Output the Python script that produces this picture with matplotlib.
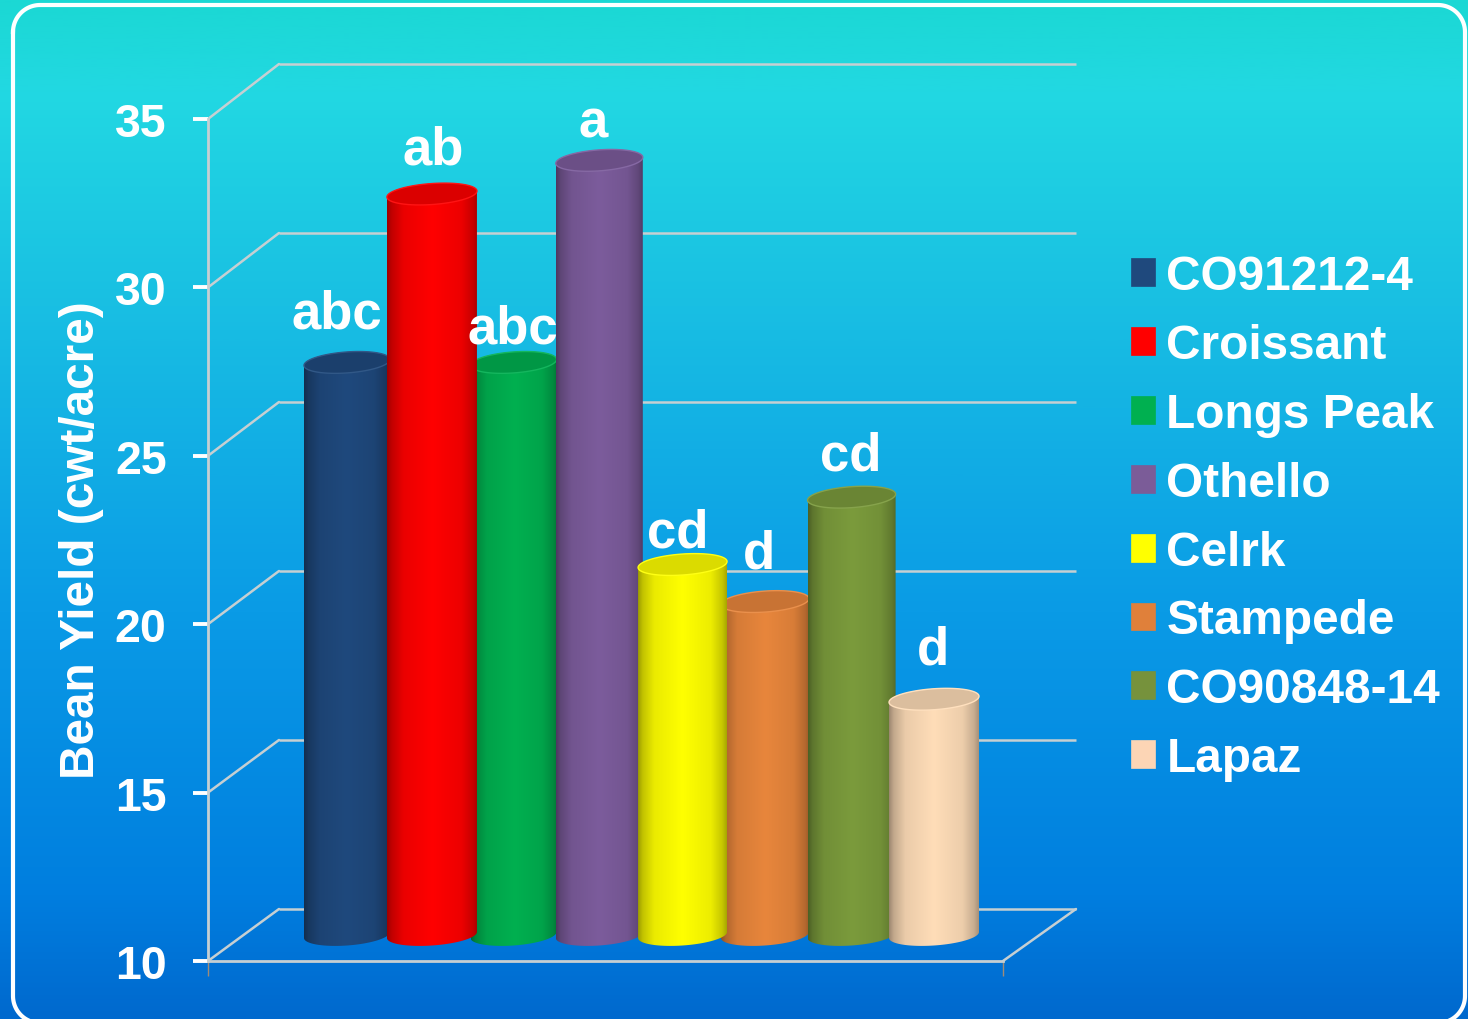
import numpy as np
import matplotlib
matplotlib.use("Agg")
import matplotlib.pyplot as plt
from matplotlib.colors import LinearSegmentedColormap, to_rgb
from matplotlib.patches import Patch, PathPatch, ConnectionPatch
from matplotlib.path import Path

# ---- data ----
varieties = ["CO91212-4", "Croissant", "Longs Peak", "Othello", "Celrk", "Stampede", "CO90848-14", "Lapaz"]
yields = [27.0, 32.0, 27.0, 33.0, 21.0, 19.9, 23.0, 17.0]
letters = ["abc", "ab", "abc", "a", "cd", "d", "cd", "d"]
y_ticks = [10, 15, 20, 25, 30, 35]
y_label = "Bean Yield (cwt/acre)"

# ---- style / layout ----
colours = ["#1F497D", "#FF0000", "#00B050", "#7C5C9C", "#FFFF00", "#E8863C", "#7B9B3C", "#FFDDB8"]
legend_colours = ["#1F497D", "#FF0000", "#00B050", "#7B5C98", "#FFFF00", "#E0803A", "#76923C", "#FCD5B5"]
draw_order = [0, 2, 3, 5, 1, 4, 6, 7]
nudge = [0.0, 0.01, -0.02, 0.0, -0.01, -0.03, 0.0, -0.02]
width_px = [86, 90, 86, 87, 89, 88, 88, 90]
label_dx = [-10, 1, -1, -6, -5, -6, -1, -1]
label_dy = [35, 31, 20, 24, 18, 34, 28, 36]
W, H, DPI = 1468, 1020, 100
FONT = "Liberation Sans"
GRID = "#C6CFD2"
STEP = 84.1
UNIT = 33.68


def rect(l, t, r, b):
    return [l / W, 1 - b / H, (r - l) / W, (b - t) / H]


fig = plt.figure(figsize=(W / DPI, H / DPI), dpi=DPI)

# background
bg = fig.add_axes([0, 0, 1, 1], zorder=0)
cmap = LinearSegmentedColormap.from_list(
    "bg",
    [(0.0, "#1BD8D4"), (0.09, "#22D8E2"), (0.3, "#19BFE3"), (0.6, "#0A9BE6"), (0.88, "#007EDF"), (1.0, "#0069CE")],
)
bg.imshow(np.linspace(0, 1, 512)[:, None], cmap=cmap, aspect="auto", extent=(0, W, H, 0))
bg.set_xlim(0, W)
bg.set_ylim(H, 0)
bg.axis("off")
# rounded frame as a plain polyline (its foot runs just past the lower edge)
fl, ft, fr, fb, rad = 13, 6, 1465, 1024, 27
arc = np.linspace(0, np.pi / 2, 24)
fx = np.r_[fl + rad - rad * np.cos(arc), fr - rad + rad * np.sin(arc),
           fr - rad + rad * np.cos(arc), fl + rad - rad * np.sin(arc), fl]
fy = np.r_[ft + rad - rad * np.sin(arc), ft + rad - rad * np.cos(arc),
           fb - rad + rad * np.sin(arc), fb - rad + rad * np.cos(arc), ft + rad]
bg.plot(fx, fy, color="white", lw=3.0, solid_joinstyle="round")

# back wall
wall = fig.add_axes(rect(279, 65, 1076, 910), zorder=1)
wall.patch.set_visible(False)
wall.set_xlim(0, 1)
wall.set_ylim(10, 35)
wall.axis("off")
wall.hlines(y_ticks, 0, 1, color=GRID, lw=1.8, clip_on=False)

# front plane with the value axis
front = fig.add_axes(rect(208, 120, 1003, 962), zorder=2)
front.patch.set_visible(False)
front.set_xlim(0, 1)
front.set_ylim(10, 35)
for s in ("top", "right"):
    front.spines[s].set_visible(False)
for s in ("left", "bottom"):
    front.spines[s].set_color(GRID)
    front.spines[s].set_linewidth(2.0)
front.set_yticks(y_ticks)
front.set_yticklabels([str(v) for v in y_ticks], fontsize=33.5, fontweight="bold",
                      family=FONT, color="white")
front.tick_params(axis="y", direction="out", length=10.8, width=2.8, color="white", pad=19)
front.set_xticks([0, 1])
front.set_xticklabels(["", ""])
front.tick_params(axis="x", direction="out", length=10.8, width=1.0, color="#A08C78")
front.set_ylabel(y_label, fontsize=34.4, fontweight="bold", family=FONT, color="white")
front.yaxis.set_label_coords((104 - 208) / (1003 - 208), (962 - 540) / (962 - 120))

for v in y_ticks:
    front.add_artist(ConnectionPatch((0, v), (0, v), coordsA=front.transData, coordsB=wall.transData,
                                     color=GRID, lw=1.8, clip_on=False))
front.add_artist(ConnectionPatch((1, 10), (1, 10), coordsA=front.transData, coordsB=wall.transData,
                                 color=GRID, lw=1.8, clip_on=False))

# cylinders
ax = fig.add_axes(rect(250, 936 - 26 * UNIT, 1040, 936 + UNIT), zorder=3)
ax.patch.set_visible(False)
shade_x = [0.0, 0.05, 0.18, 0.5, 0.82, 0.95, 1.0]
shade_y = [0.62, 0.76, 0.92, 1.0, 0.93, 0.78, 0.66]
t = np.linspace(0, 2 * np.pi, 121)
half_h = 10.5 / UNIT
shear = 3.0 / UNIT

for i in draw_order:
    c = np.array(to_rgb(colours[i]))
    cx = i + nudge[i]
    a = width_px[i] / 2 / STEP
    v = yields[i]
    # side wall: lower arc of the foot, upper arc of the head
    tb = np.linspace(np.pi, 2 * np.pi, 60)
    tt = np.linspace(0, np.pi, 60)
    xs = np.r_[cx + a * np.cos(tb), cx + a * np.cos(tt)]
    ys = np.r_[10 + half_h * np.sin(tb) + shear * np.cos(tb), v + half_h * np.sin(tt) + shear * np.cos(tt)]
    body = PathPatch(Path(np.c_[xs, ys]), fc="none", ec="none", transform=ax.transData)
    ax.add_patch(body)
    shade = np.interp(np.linspace(0, 1, 128), shade_x, shade_y)
    grad = np.clip(c[None, None, :] * shade[None, :, None], 0, 1)
    im = ax.imshow(grad, extent=(cx - a, cx + a, 9.3, v + 1), aspect="auto", zorder=10 + draw_order.index(i),
                   interpolation="bilinear")
    im.set_clip_path(body)
    # head of the cylinder
    ax.fill(cx + a * np.cos(t), v + half_h * np.sin(t) + shear * np.cos(t), fc=c * 0.86,
            ec=np.clip(c * 0.92 + 0.08, 0, 1), lw=1.0, zorder=10 + draw_order.index(i) + 0.5)
    ax.annotate(letters[i], xy=(cx, v), xytext=(label_dx[i], label_dy[i]), textcoords="offset pixels",
                ha="center", va="baseline", fontsize=38, fontweight="bold", family=FONT,
                color="white", zorder=40, annotation_clip=False)

ax.set_xlim((250 - 347) / STEP, (1040 - 347) / STEP)
ax.set_ylim(9, 36)
ax.axis("off")

# legend
handles = [Patch(fc=c, ec=c, lw=0.5, label=n) for c, n in zip(legend_colours, varieties)]
leg = fig.legend(handles=handles, loc="upper left", bbox_to_anchor=(1131 / W, 1 - 255 / H),
                 frameon=False, borderpad=0, borderaxespad=0, handlelength=0.5, handleheight=0.52,
                 handletextpad=0.24, labelspacing=0.50,
                 prop={"family": FONT, "weight": "bold", "size": 34.4})
for tx in leg.get_texts():
    tx.set_color("white")
leg.set_zorder(5)

fig.savefig("out.png", dpi=DPI)
